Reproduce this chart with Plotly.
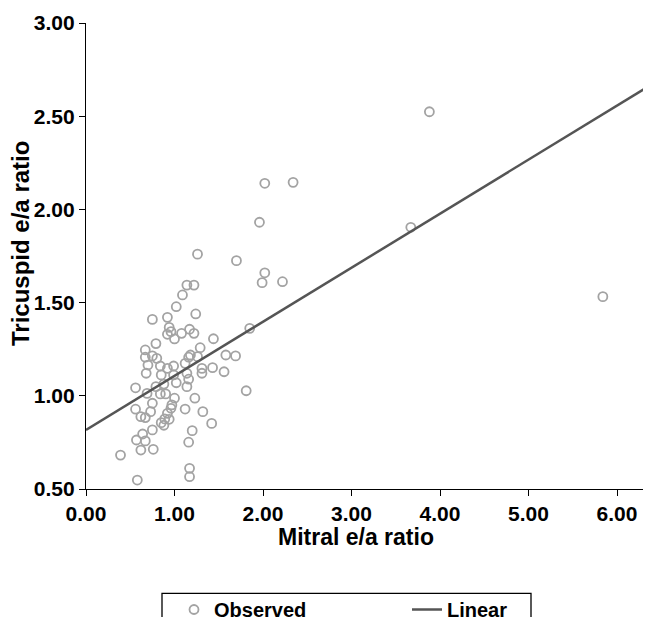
import plotly.graph_objects as go

# Observed points (Mitral e/a ratio, Tricuspid e/a ratio)
mitral = [1.26, 1.70, 2.02, 1.99, 1.14, 1.22, 1.09, 1.02, 1.24, 0.75,
          0.92, 0.94, 0.96, 0.92, 1.00, 1.08, 1.17, 1.22, 1.44, 1.85,
          0.79, 0.67, 1.29, 0.67, 0.75, 0.80, 0.70, 0.84, 0.92, 0.99,
          1.16, 1.18, 1.26, 1.12, 1.58, 1.69, 1.43, 1.31, 1.31, 1.56,
          0.68, 0.85, 0.99, 1.14, 1.16, 1.02, 1.14, 0.56, 1.81, 0.88,
          0.79, 0.69, 0.84, 0.90, 1.00, 1.23, 0.75, 0.97, 0.56, 0.96,
          0.73, 1.12, 1.32, 0.62, 0.67, 0.92, 0.89, 0.85, 0.94, 1.42,
          0.88, 0.75, 1.20, 0.64, 0.57, 0.67, 1.16, 0.62, 0.76, 0.39,
          1.17, 1.17, 0.58, 3.88, 2.02, 2.34, 1.96, 3.67, 5.84, 2.22]
tricuspid = [1.760, 1.725, 1.660, 1.607, 1.594, 1.594, 1.541, 1.478, 1.439, 1.410,
             1.421, 1.367, 1.344, 1.330, 1.305, 1.335, 1.357, 1.335, 1.306, 1.362,
             1.280, 1.246, 1.258, 1.207, 1.214, 1.201, 1.165, 1.160, 1.147, 1.160,
             1.207, 1.219, 1.210, 1.174, 1.219, 1.214, 1.151, 1.147, 1.121, 1.129,
             1.121, 1.112, 1.112, 1.121, 1.089, 1.070, 1.049, 1.043, 1.027, 1.063,
             1.049, 1.013, 1.010, 1.010, 0.987, 0.987, 0.960, 0.951, 0.928, 0.933,
             0.915, 0.929, 0.915, 0.888, 0.883, 0.906, 0.876, 0.856, 0.874, 0.852,
             0.842, 0.817, 0.813, 0.795, 0.763, 0.758, 0.751, 0.709, 0.713, 0.682,
             0.611, 0.566, 0.548, 2.524, 2.140, 2.145, 1.931, 1.904, 1.532, 1.612]

# Linear fit
fit_intercept = 0.817
fit_slope = 0.290
fit_x = [0.0, 6.6]
fit_y = [fit_intercept + fit_slope * v for v in fit_x]

x_ticks = [0, 1, 2, 3, 4, 5, 6]
y_ticks = [0.5, 1.0, 1.5, 2.0, 2.5, 3.0]

FONT = "Liberation Sans, Arial, Helvetica, sans-serif"

# page body has an 8px default margin: figure is sized/offset to compensate
W, H = 643, 609
ML, MT, MB = 78, 15, 128
PW = W - ML
PH = H - MT - MB

fig = go.Figure()
fig.add_trace(go.Scatter(
    x=mitral, y=tricuspid, mode="markers", name="<b>Observed</b>",
    marker=dict(symbol="circle-open", size=9, color="#a3a3a3",
                line=dict(width=1.8, color="#a3a3a3")),
))
fig.add_trace(go.Scatter(
    x=fit_x, y=fit_y, mode="lines", name="<b>Linear</b>",
    line=dict(color="#555555", width=2.5),
))

axis_common = dict(
    showgrid=False, zeroline=False, showline=True, linecolor="black",
    linewidth=1.3, ticks="outside", ticklen=6, tickcolor="black",
    tickwidth=1.3, tickformat=".2f",
    tickfont=dict(family=FONT, size=21, color="black", weight="bold"),
)

# legend frame (bottom edge runs off the page, as in the reference)
bx0, bx1 = 154, 523
by_top = 585.3
fig.add_shape(type="rect", xref="paper", yref="paper",
              x0=(bx0 - ML) / PW, x1=(bx1 - ML) / PW,
              y0=(MT + PH - (H + 30)) / PH, y1=(MT + PH - by_top) / PH,
              line=dict(color="black", width=1.3), fillcolor="white",
              layer="above")

fig.add_annotation(text="<b>Mitral e/a ratio</b>", xref="x", x=3.05,
                   yref="paper", y=(MT + PH - 529) / PH, yanchor="middle",
                   showarrow=False,
                   font=dict(family=FONT, size=23, color="black"))
fig.add_annotation(text="<b>Tricuspid e/a ratio</b>", xref="paper",
                   x=(12 - ML) / PW, xanchor="center", yref="paper",
                   y=(MT + PH - 236) / PH, yanchor="middle", textangle=-90,
                   showarrow=False,
                   font=dict(family=FONT, size=24, color="black"))

fig.update_layout(
    width=W, height=H,
    margin=dict(l=ML, r=0, t=MT, b=MB, autoexpand=False),
    paper_bgcolor="white", plot_bgcolor="white",
    xaxis=dict(range=[0, 6.384], tickvals=x_ticks, **axis_common),
    yaxis=dict(range=[0.5, 3.0], tickvals=y_ticks, **axis_common),
    showlegend=True,
    legend=dict(orientation="h", xref="container", yref="container",
                x=166 / W, xanchor="left", y=1 - 582 / H, yanchor="top",
                borderwidth=0, bgcolor="rgba(0,0,0,0)",
                font=dict(family=FONT, size=20, color="black"),
                entrywidth=188, entrywidthmode="pixels",
                itemsizing="trace"),
)

fig.write_html("out.html")
